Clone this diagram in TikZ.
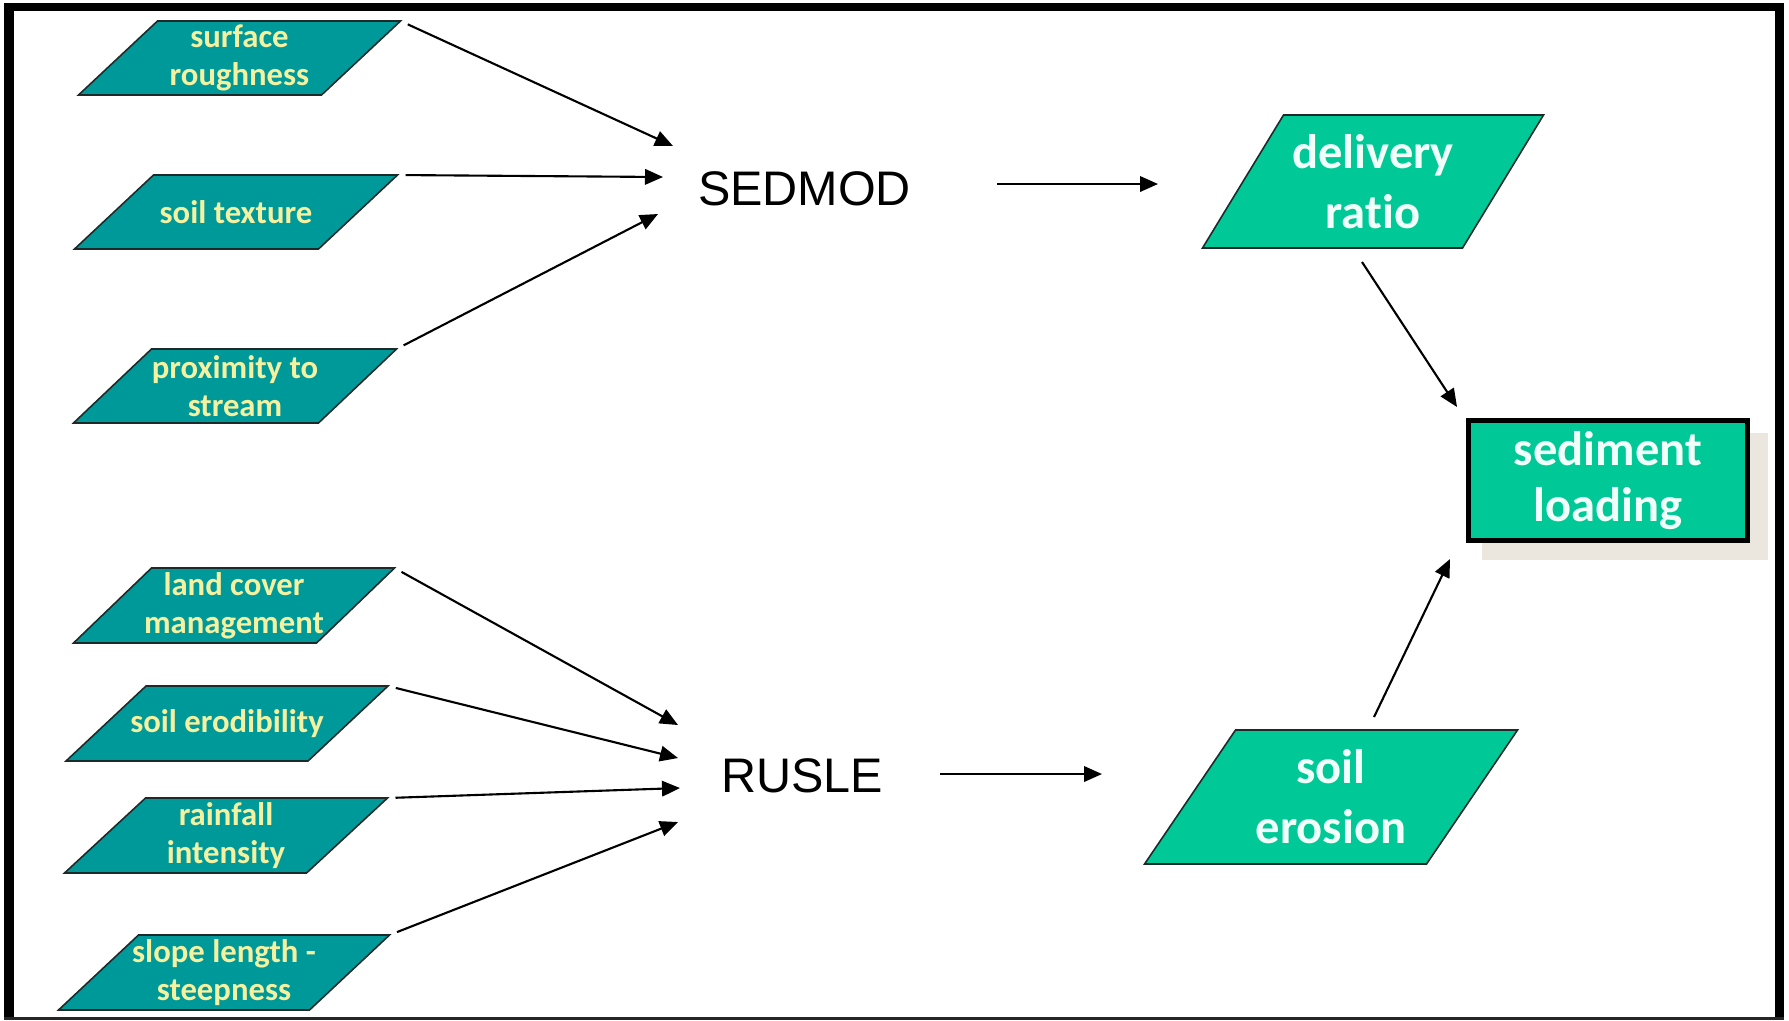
\documentclass[tikz,border=0pt]{standalone}
\usepackage{fontspec}
\setmainfont{Carlito}[Ligatures={NoCommon,NoContextual}]
\newfontfamily\arialfont{Liberation Sans}
\usetikzlibrary{arrows.meta}

\definecolor{inputfill}{HTML}{009999}
\definecolor{inputtext}{HTML}{F4F1A0}
\definecolor{resultfill}{HTML}{00C896}
\definecolor{resulttext}{HTML}{F0FFF8}
\definecolor{edgegrey}{HTML}{1E2A2A}
\definecolor{shadowbeige}{HTML}{EBE7DE}

\tikzset{
  inshape/.style={fill=inputfill, draw=edgegrey, line width=0.45pt},
  intext/.style={inner sep=0pt, align=center, text=inputtext,
    font=\fontsize{9.3pt}{10.8pt}\selectfont\bfseries},
  outshape/.style={fill=resultfill, draw=edgegrey, line width=0.45pt},
  outtext/.style={inner sep=0pt, align=center, text=resulttext,
    font=\fontsize{13.8pt}{17pt}\selectfont\bfseries},
  model/.style={inner sep=0pt, anchor=base,
    font=\arialfont\fontsize{13.8pt}{16pt}\selectfont},
  link/.style={draw=black, line width=0.6pt,
    -{Triangle[length=0.18cm,width=0.155cm]}},
  feed/.style={link, shorten <=0.08cm},
  sedbox/.style={rectangle, fill=resultfill, draw=black, line width=1.45pt,
    minimum width=2.79cm, minimum height=1.2cm, inner sep=0pt, align=center,
    text=resulttext, font=\fontsize{13.8pt}{16pt}\selectfont\bfseries},
}

% parallelogram: name, style prefix, centre x, centre y, side width, height, skew, label
\newcommand\parabox[8]{%
  \coordinate (#1-tl) at ({#3-#5/2+#7/2},{#4-#6/2});
  \coordinate (#1-tr) at ({#3+#5/2+#7/2},{#4-#6/2});
  \coordinate (#1-br) at ({#3+#5/2-#7/2},{#4+#6/2});
  \coordinate (#1-bl) at ({#3-#5/2-#7/2},{#4+#6/2});
  \draw[#2shape] (#1-tl) -- (#1-tr) -- (#1-br) -- (#1-bl) -- cycle;
  \node[#2text] (#1) at (#3,#4) {#8};
}

\begin{document}
\begin{tikzpicture}[x=0.01cm, y=-0.01cm]
  \useasboundingbox (0,0) rectangle (1789,1020);
  \fill[white] (0,0) rectangle (1789,1020);

  % frame
  \fill[black] (4,3) rectangle (14,1020);
  \fill[black] (4,3) rectangle (1784,11);
  \fill[black] (1775,3) rectangle (1784,1020);
  \fill[black!85] (4,1017) rectangle (1784,1020);

  % input layers
  \parabox{rough}{in}{239.5}{58}{243}{74}{79}{surface\\roughness}
  \parabox{texture}{in}{236}{212}{244}{74}{79}{soil texture}
  \parabox{prox}{in}{235}{386}{245}{74}{78}{proximity to\\stream}
  \parabox{cover}{in}{234}{605.5}{243}{75}{78}{land cover\\management}
  \parabox{erod}{in}{227}{723.5}{242}{75}{80}{soil erodibility}
  \parabox{rain}{in}{226}{835.5}{242}{75}{81}{rainfall\\intensity}
  \parabox{slope}{in}{224}{972.5}{251}{75}{80}{slope length -\\steepness}

  % models
  \node[model] (sedmod) at (804.5,205) {SEDMOD};
  \node[model] (rusle) at (802,792) {RUSLE};

  % results
  \parabox{ratio}{out}{1373}{181.5}{260}{133}{81}{delivery\\rat\kern0pt io}
  \parabox{erosion}{out}{1331}{797}{282}{134}{91}{soil\\erosion}

  \fill[shadowbeige] (1482,433) rectangle (1768,560);
  \node[sedbox] (load) at (1608,480.5) {sediment\\loading};

  % arrow end points
  \coordinate (sedA) at (673,146);
  \coordinate (sedB) at (663,177);
  \coordinate (sedC) at (658,214);
  \coordinate (rusA) at (678,725);
  \coordinate (rusB) at (678,758);
  \coordinate (rusC) at (680,788);
  \coordinate (rusD) at (678,822);
  \coordinate (sedOut) at (997,184);
  \coordinate (ratioIn) at (1158,184);
  \coordinate (rusOut) at (940,774);
  \coordinate (erosionIn) at (1102,774);
  \coordinate (ratioOut) at (1362,262);
  \coordinate (loadTop) at (1457,407);
  \coordinate (erosionOut) at (1374,717);
  \coordinate (loadBottom) at (1450,559);

  % connectors
  \draw[feed] (rough-tr) -- (sedA);
  \draw[feed] (texture-tr) -- (sedB);
  \draw[feed] (prox-tr) -- (sedC);
  \draw[feed] (cover-tr) -- (rusA);
  \draw[feed] (erod-tr) -- (rusB);
  \draw[feed] (rain-tr) -- (rusC);
  \draw[feed] (slope-tr) -- (rusD);
  \draw[link] (sedOut) -- (ratioIn);
  \draw[link] (rusOut) -- (erosionIn);
  \draw[link] (ratioOut) -- (loadTop);
  \draw[link] (erosionOut) -- (loadBottom);
\end{tikzpicture}
\end{document}
